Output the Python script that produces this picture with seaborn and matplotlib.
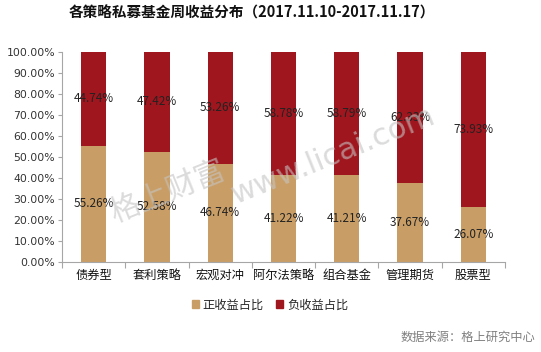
import matplotlib
matplotlib.use("Agg")
import matplotlib.pyplot as plt
import seaborn as sns
import pandas as pd
from matplotlib.ticker import PercentFormatter
from matplotlib.patches import Patch

categories = ["债券型", "套利策略", "宏观对冲", "阿尔法策略", "组合基金", "管理期货", "股票型"]
positive = [55.26, 52.58, 46.74, 41.22, 41.21, 37.67, 26.07]
negative = [44.74, 47.42, 53.26, 58.78, 58.79, 62.33, 73.93]
series_names = ["正收益占比", "负收益占比"]
title = "各策略私募基金周收益分布（2017.11.10-2017.11.17）"
source = "数据来源：格上研究中心"

sns.set_theme(style="white")
plt.rcParams['font.family'] = ['Noto Sans CJK SC', 'DejaVu Sans']

c_pos = "#C99E66"
c_neg = "#A0161E"

fig = plt.figure(figsize=(5.41, 3.52), dpi=100)
ax = fig.add_axes([62/541, 1 - 262/352, (505-62)/541, (262-52)/352])

df = pd.DataFrame({"cat": categories, "pos": positive, "tot": [p + n for p, n in zip(positive, negative)]})
sns.barplot(data=df, x="cat", y="tot", color=c_neg, width=0.4, ax=ax, saturation=1, linewidth=0)
sns.barplot(data=df, x="cat", y="pos", color=c_pos, width=0.4, ax=ax, saturation=1, linewidth=0)

for i, (p, n) in enumerate(zip(positive, negative)):
    ax.text(i, p / 2, f"{p:.2f}%", ha="center", va="center", fontsize=8.5, color="#222222")
    ax.text(i, p + n / 2, f"{n:.2f}%", ha="center", va="center", fontsize=8.5, color="#222222")

ax.set_ylim(0, 100)
ax.set_xlim(-0.5, len(categories) - 0.5)
ax.set_yticks(range(0, 101, 10))
ax.yaxis.set_major_formatter(PercentFormatter(decimals=2))
ax.set_xlabel("")
ax.set_ylabel("")
for s in ["top", "right"]:
    ax.spines[s].set_visible(False)
for s in ["left", "bottom"]:
    ax.spines[s].set_color("#A6A6A6")
    ax.spines[s].set_linewidth(0.8)
ax.tick_params(axis="y", labelsize=7.8, colors="#333333", length=3, width=0.8, left=True, color="#A6A6A6", pad=2)
ax.tick_params(axis="x", labelsize=8.8, colors="#111111", length=0, pad=5)
ax.set_xticks([x - 0.5 for x in range(len(categories) + 1)], minor=True)
ax.tick_params(axis="x", which="minor", length=4, color="#A6A6A6", width=0.8, bottom=True)
for lbl in ax.get_yticklabels():
    lbl.set_family(["DejaVu Sans"])

# watermarks
fig.text(168/541, 1 - 192/352, "格上财富", rotation=22, fontsize=22, color="#C4C4C4", alpha=0.6,
         ha="center", va="center")
fig.text(333/541, 1 - 155/352, "www.licai.com", rotation=22, fontsize=22, color="#C4C4C4", alpha=0.6,
         ha="center", va="center", family=["DejaVu Sans"])

fig.text(252/541, 1 - 13/352, title, ha="center", va="center", fontsize=10.5, fontweight="bold", color="#111111")

handles = [Patch(color=c_pos), Patch(color=c_neg)]
fig.legend(handles, series_names, loc="center", bbox_to_anchor=(270/541, 1 - 305/352), ncol=2,
           frameon=False, fontsize=8.8, handlelength=0.6, handleheight=0.6, handletextpad=0.3, columnspacing=1.0)

fig.text(535/541, 1 - 337/352, source, ha="right", va="center", fontsize=8.8, color="#808080")

fig.savefig("out.png", dpi=100)
